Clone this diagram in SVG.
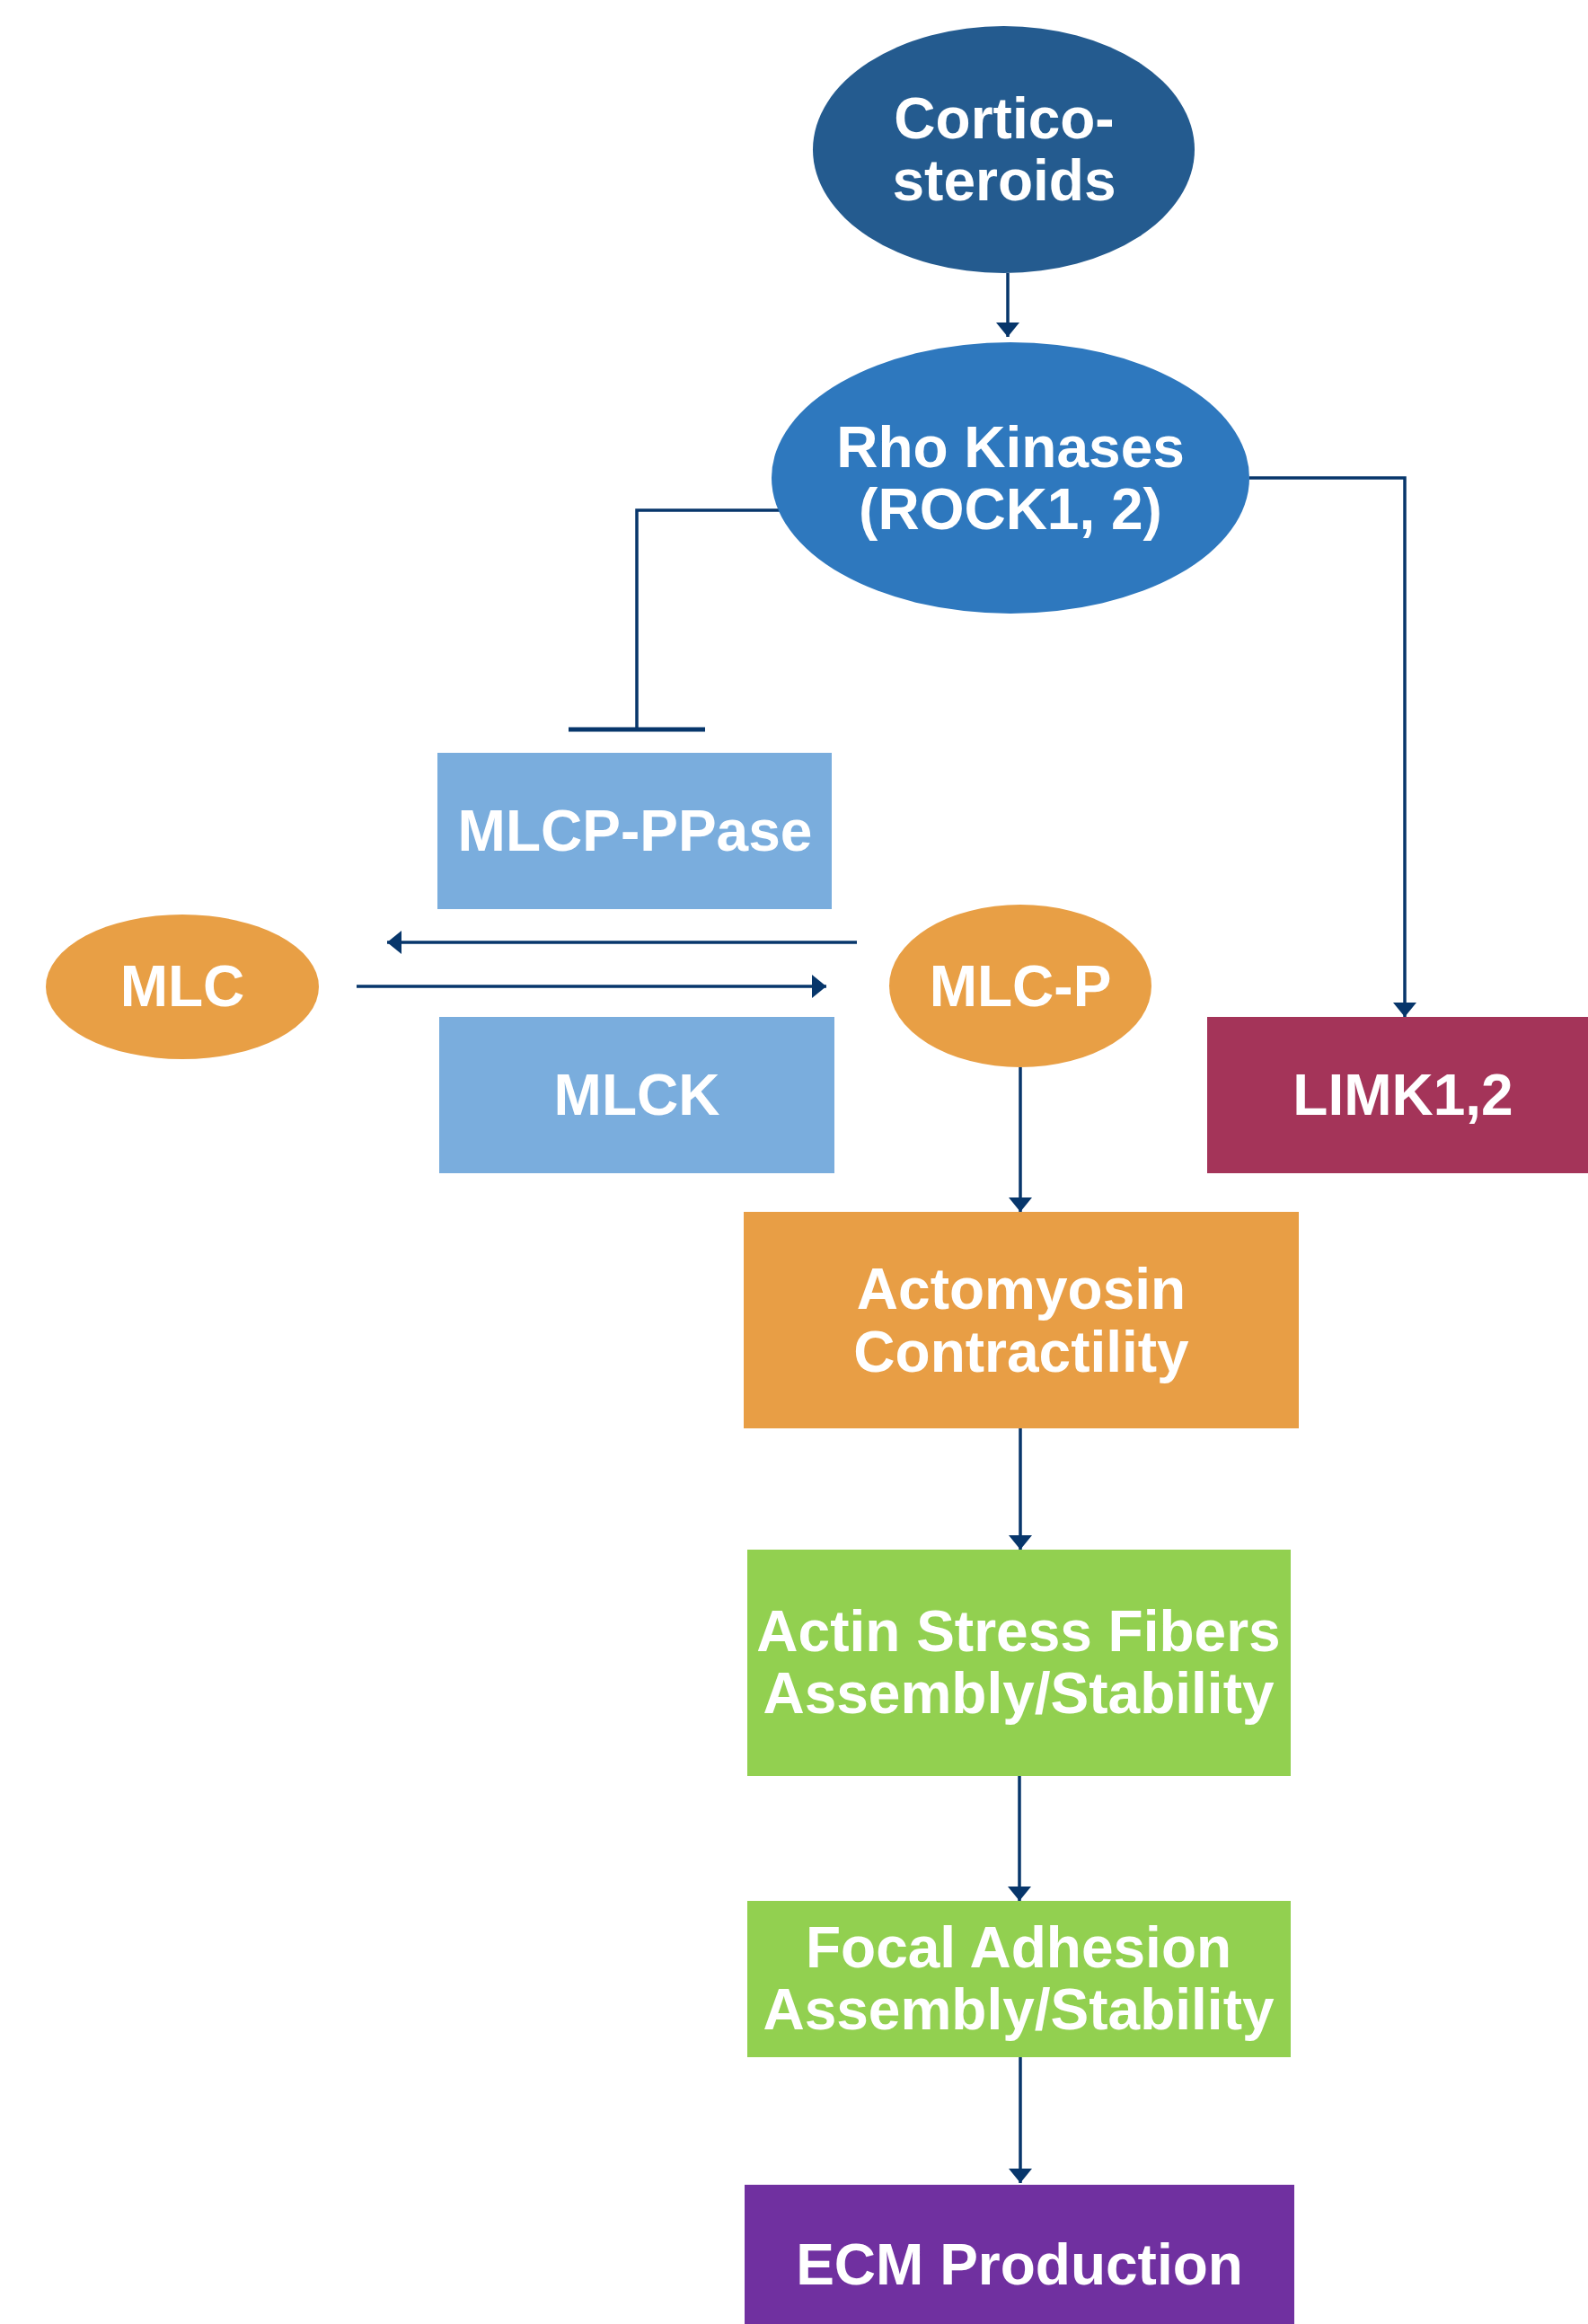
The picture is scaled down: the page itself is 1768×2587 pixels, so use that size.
<svg xmlns="http://www.w3.org/2000/svg" width="1768" height="2587" viewBox="0 0 1768 2587">
<defs>
<marker id="arr" markerUnits="userSpaceOnUse" markerWidth="16" markerHeight="26" refX="16" refY="13" orient="auto">
<path d="M0,0 L16,13 L0,26 z" fill="#07366B"/>
</marker>
<style>
.lbl{font-family:"Liberation Sans",Arial,sans-serif;font-weight:bold;font-size:64px;fill:#fff;text-anchor:middle}
.con{fill:none;stroke:#07366B;stroke-width:3.5}
</style>
</defs>
<rect width="1768" height="2587" fill="#fff"/>
<g id="connectors">
<path class="con" d="M1122,304 V375" marker-end="url(#arr)"/>
<path class="con" d="M1391,532 H1564 V1132" marker-end="url(#arr)"/>
<path class="con" d="M868,568 H709 V812"/>
<path d="M633,812 H785" fill="none" stroke="#07366B" stroke-width="5"/>
<path class="con" d="M954,1049 H431" marker-end="url(#arr)"/>
<path class="con" d="M397,1098 H920" marker-end="url(#arr)"/>
<path class="con" d="M1136,1188 V1349" marker-end="url(#arr)"/>
<path class="con" d="M1136,1590 V1725" marker-end="url(#arr)"/>
<path class="con" d="M1135,1977 V2116" marker-end="url(#arr)"/>
<path class="con" d="M1136,2290 V2430" marker-end="url(#arr)"/>
</g>
<g id="corticosteroids">
<ellipse cx="1117.5" cy="166.5" rx="212.5" ry="137.5" fill="#245B8F"/>
<text class="lbl" x="1118" y="154">Cortico-</text>
<text class="lbl" x="1118" y="223">steroids</text>
</g>
<g id="rho">
<ellipse cx="1125" cy="532" rx="266" ry="151" fill="#2E78BE"/>
<text class="lbl" x="1125" y="520">Rho Kinases</text>
<text class="lbl" x="1125" y="589">(ROCK1, 2)</text>
</g>
<g id="mlcp">
<rect x="487" y="838" width="439" height="174" fill="#7AADDD"/>
<text class="lbl" x="707" y="947">MLCP-PPase</text>
</g>
<g id="mlc">
<ellipse cx="203" cy="1098.5" rx="152" ry="80.5" fill="#E89F45"/>
<text class="lbl" x="203" y="1120">MLC</text>
</g>
<g id="mlcp-p">
<ellipse cx="1136" cy="1097.5" rx="146" ry="90.5" fill="#E89F45"/>
<text class="lbl" x="1136" y="1120">MLC-P</text>
</g>
<g id="mlck">
<rect x="489" y="1132" width="440" height="174" fill="#7AADDD"/>
<text class="lbl" x="709" y="1241">MLCK</text>
</g>
<g id="limk">
<rect x="1344" y="1132" width="424" height="174" fill="#A43459"/>
<text class="lbl" x="1562" y="1241">LIMK1,2</text>
</g>
<g id="actomyosin">
<rect x="828" y="1349" width="618" height="241" fill="#E89E45"/>
<text class="lbl" x="1137" y="1457">Actomyosin</text>
<text class="lbl" x="1137" y="1527">Contractility</text>
</g>
<g id="actin">
<rect x="832" y="1725" width="605" height="252" fill="#92D050"/>
<text class="lbl" x="1134" y="1838">Actin Stress Fibers</text>
<text class="lbl" x="1134" y="1907">Assembly/Stability</text>
</g>
<g id="focal">
<rect x="832" y="2116" width="605" height="174" fill="#92D050"/>
<text class="lbl" x="1134" y="2190">Focal Adhesion</text>
<text class="lbl" x="1134" y="2259">Assembly/Stability</text>
</g>
<g id="ecm">
<rect x="829" y="2432" width="612" height="155" fill="#7030A0"/>
<text class="lbl" x="1135" y="2543">ECM Production</text>
</g>
</svg>
